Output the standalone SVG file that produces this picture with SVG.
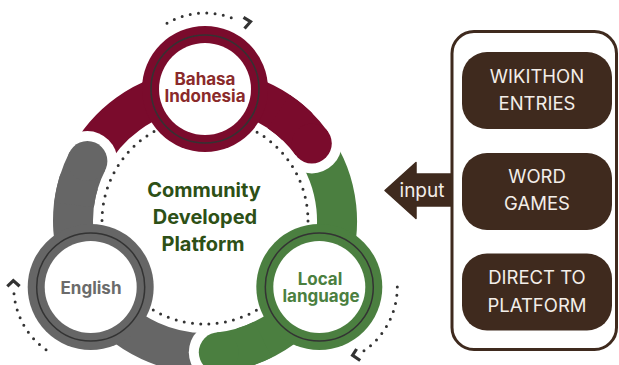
<svg xmlns="http://www.w3.org/2000/svg" width="619" height="365" viewBox="0 0 619 365">
<defs>
<style>
.band{fill:none;stroke-width:40;stroke-linecap:butt}
.mar{stroke:#7a0b2c}
.gry{stroke:#666666}
.grn{stroke:#4b7f40}
.dots{fill:none;stroke:#333333;stroke-width:3;stroke-linecap:round;stroke-dasharray:0 8.3}
.chev{fill:none;stroke:#333333;stroke-width:3.2;stroke-linejoin:miter;stroke-linecap:butt}
.ring{fill:none;stroke:#333333;stroke-width:1.5}
.lbl{font-family:Inter,"DejaVu Sans",sans-serif;font-weight:700;font-size:17px;text-anchor:middle}
.ctr{font-family:Inter,"DejaVu Sans",sans-serif;font-weight:700;font-size:20px;text-anchor:middle;fill:#2d5016}
.box{fill:#3f2a1e}
.btx{font-family:Inter,"Liberation Sans",sans-serif;font-size:18.5px;fill:#f3eee9;text-anchor:middle}
</style>
</defs>
<rect width="619" height="365" fill="#ffffff"/>
<g id="connectors">
<!-- bands -->
<path class="band mar" d="M87.4,161.1 A132,132 0 0 1 311.8,143.4"/>
<path class="band gry" d="M218.8,352.3 A132,132 0 0 1 87.4,161.1"/>
<path class="band grn" d="M311.8,143.4 A132,132 0 0 1 218.8,352.3"/>
<!-- cap overlays -->
<circle cx="87.4" cy="161.1" r="30" fill="#ffffff"/>
<path class="band gry" d="M74.0,204.9 A132,132 0 0 1 87.4,161.1"/>
<circle cx="87.4" cy="161.1" r="20" fill="#666666"/>
<circle cx="311.8" cy="143.4" r="30" fill="#ffffff"/>
<path class="band mar" d="M278.8,111.6 A132,132 0 0 1 311.8,143.4"/>
<circle cx="311.8" cy="143.4" r="20" fill="#7a0b2c"/>
<circle cx="218.8" cy="352.3" r="30" fill="#ffffff"/>
<path class="band grn" d="M262.9,339.6 A132,132 0 0 1 218.8,352.3"/>
<circle cx="218.8" cy="352.3" r="20" fill="#4b7f40"/>
<!-- inner dotted circle -->
<circle class="dots" cx="205" cy="221" r="103" style="stroke-dasharray:0 8.297"/>
<!-- outer dotted arrows -->
<path class="dots" d="M167,23.2 A76,76 0 0 1 238.3,20.7"/>
<polyline class="chev" points="243.5,17.3 250.5,21.7 244.5,28.5"/>
<path class="dots" d="M14.0,293.7 A77,77 0 0 0 52.2,353.7"/>
<polyline class="chev" points="7.3,286.3 13.3,280.6 19.6,286.3"/>
<path class="dots" d="M397.3,287 A78,78 0 0 1 362.5,351.8"/>
<polyline class="chev" points="356.6,349 352.6,355.2 360.2,360.5"/>
<!-- input arrow -->
<polygon points="385,190.5 416,162.5 416,174 452,174 452,206 416,206 416,218.5" fill="#3f2a1e" stroke="#3f2a1e" stroke-width="1.5" stroke-linejoin="round"/>
<text x="422" y="196.7" class="btx" style="font-size:19px">input</text>
</g>
<g id="node-bahasa">
<circle cx="205" cy="89" r="63" fill="#7a0b2c"/>
<circle cx="205" cy="89" r="46" fill="#ffffff"/>
<circle class="ring" cx="205" cy="89" r="54"/>
<text class="lbl" x="205" y="85" fill="#8a2a2a">Bahasa</text>
<text class="lbl" x="205" y="101.7" fill="#8a2a2a">Indonesia</text>
</g>
<g id="node-english">
<circle cx="90.7" cy="287" r="63" fill="#666666"/>
<circle cx="90.7" cy="287" r="46" fill="#ffffff"/>
<circle class="ring" cx="90.7" cy="287" r="54"/>
<text class="lbl" x="91" y="294" fill="#6b6b6b">English</text>
</g>
<g id="node-local">
<circle cx="319.3" cy="287" r="63" fill="#4b7f40"/>
<circle cx="319.3" cy="287" r="46" fill="#ffffff"/>
<circle class="ring" cx="319.3" cy="287" r="54"/>
<text class="lbl" x="320" y="285" fill="#4b7f40">Local</text>
<text class="lbl" x="321" y="301.7" fill="#4b7f40">language</text>
</g>
<g id="node-center">
<text class="ctr" x="204" y="197">Community</text>
<text class="ctr" x="205" y="224">Developed</text>
<text class="ctr" x="203" y="251">Platform</text>
</g>
<g id="panel">
<rect x="452" y="31.5" width="164.5" height="318" rx="22" fill="#ffffff" stroke="#3f2a1e" stroke-width="3"/>
</g>
<g id="node-wikithon">
<rect class="box" x="462" y="52" width="150" height="77" rx="25"/>
<text class="btx" x="537" y="83">WIKITHON</text>
<text class="btx" x="537" y="109.5">ENTRIES</text>
</g>
<g id="node-wordgames">
<rect class="box" x="462" y="153" width="150" height="77" rx="25"/>
<text class="btx" x="537" y="183">WORD</text>
<text class="btx" x="537" y="210">GAMES</text>
</g>
<g id="node-direct">
<rect class="box" x="462" y="253.5" width="150" height="77" rx="25"/>
<text class="btx" x="537" y="283.5">DIRECT TO</text>
<text class="btx" x="537" y="311.5">PLATFORM</text>
</g>
</svg>
